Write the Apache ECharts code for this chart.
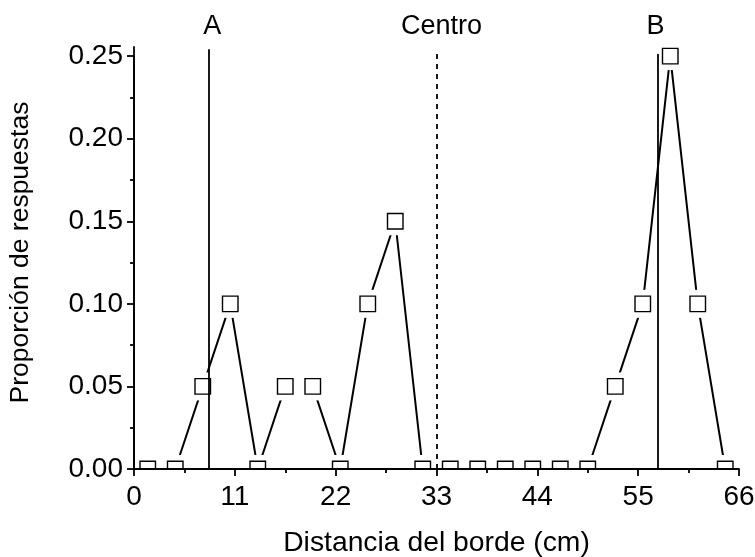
<!DOCTYPE html>
<html>
<head>
<meta charset="utf-8">
<script src="https://cdn.jsdelivr.net/npm/echarts@6/dist/echarts.min.js"></script>
<style>
  html, body { margin: 0; background: #fff; }
  #chart { width: 755px; height: 557px; }
</style>
</head>
<body>
<div id="chart"></div>
<script>
// distance from edge (cm) and proportion of responses
const distancia = [1.5, 4.5, 7.5, 10.5, 13.5, 16.5, 19.5, 22.5, 25.5, 28.5, 31.5,
  34.5, 37.5, 40.5, 43.5, 46.5, 49.5, 52.5, 55.5, 58.5, 61.5, 64.5];
const proporcion = [0, 0, 0.05, 0.10, 0, 0.05, 0.05, 0, 0.10, 0.15, 0,
  0, 0, 0, 0, 0, 0, 0.05, 0.10, 0.25, 0.10, 0];

const xTicks = [0, 11, 22, 33, 44, 55, 66];
const yTicks = [0, 0.05, 0.10, 0.15, 0.20, 0.25];
const yTop = 0.2555; // y axis line runs a little past the last tick

// reference lines
const refNames = ['A', 'Centro', 'B'];
const refX = [8.2, 33, 57.1];
const refTop = [0.2542, 0.2526, 0.2512];
const refDashed = [false, true, false];
const refLabelShift = [3, 5, -2];
const refLabelGap = [9, 11.5, 14];

const FONT = 'Liberation Sans, Arial, sans-serif';
const points = distancia.map((x, i) => [x, proporcion[i]]);

const black = { color: '#000', width: 1.8 };
const plotBottom = 88;
const plotTop = 47;
const plotH = 557 - plotTop - plotBottom;
const tickTop = plotTop + plotH * (1 - yTicks[yTicks.length - 1] / yTop);

const chart = echarts.init(document.getElementById('chart'), null, { renderer: 'canvas' });

chart.setOption({
  animation: false,
  backgroundColor: '#fff',
  grid: [
    { left: 134, right: 16, top: tickTop, bottom: plotBottom, outerBoundsMode: 'none', containLabel: false },
    // same area stretched up to the end of the axis line (no ticks here)
    { left: 134, right: 16, top: plotTop, bottom: plotBottom, outerBoundsMode: 'none', containLabel: false }
  ],
  xAxis: [
    {
      type: 'value',
      z: 10,
      min: xTicks[0],
      max: xTicks[xTicks.length - 1],
      interval: xTicks[1] - xTicks[0],
      axisLine: { show: true, lineStyle: black },
      axisTick: { show: true, inside: false, length: 7, lineStyle: black },
      minorTick: { show: true, splitNumber: 2, length: 4, lineStyle: black },
      splitLine: { show: false },
      name: 'Distancia del borde (cm)',
      nameLocation: 'middle',
      nameGap: 60,
      nameTextStyle: { fontFamily: FONT, fontSize: 28.3, color: '#000' },
      axisLabel: { margin: 14, fontFamily: FONT, fontSize: 28, color: '#000' }
    },
    { type: 'value', gridIndex: 1, show: false, min: xTicks[0], max: xTicks[xTicks.length - 1] }
  ],
  yAxis: [
    {
      type: 'value',
      z: 10,
      min: yTicks[0],
      max: yTicks[yTicks.length - 1],
      interval: yTicks[1] - yTicks[0],
      axisLine: { show: true, lineStyle: black },
      axisTick: { show: true, inside: false, length: 7, lineStyle: black },
      minorTick: { show: true, splitNumber: 2, length: 4, lineStyle: black },
      splitLine: { show: false },
      name: 'Proporción de respuestas',
      nameLocation: 'middle',
      nameGap: 100,
      nameTextStyle: { fontFamily: FONT, fontSize: 26.5, color: '#000', padding: [0, 0, 0, 20] },
      axisLabel: {
        margin: 11, fontFamily: FONT, fontSize: 28, color: '#000',
        formatter: v => v.toFixed(2)
      }
    },
    {
      type: 'value',
      gridIndex: 1,
      z: 10,
      min: yTicks[0],
      max: yTop,
      axisLine: { show: true, lineStyle: black },
      axisTick: { show: false },
      axisLabel: { show: false },
      splitLine: { show: false }
    }
  ],
  series: [
    {
      type: 'line',
      data: points,
      symbol: 'none',
      lineStyle: { color: '#000', width: 2 },
      z: 2
    },
    {
      type: 'custom',
      data: points,
      clip: false,
      z: 3,
      renderItem(params, api) {
        const p = api.coord([api.value(0), api.value(1)]);
        const base = api.coord([api.value(0), 0])[1];
        // boxes are cut off at the x axis, like the original plot
        const box = (half, style) => {
          const top = p[1] - half;
          const bottom = Math.min(p[1] + half, base);
          return { type: 'rect', shape: { x: p[0] - half, y: top, width: half * 2, height: bottom - top }, style };
        };
        return {
          type: 'group',
          children: [
            box(14, { fill: '#fff' }),
            box(7.75, { fill: '#fff', stroke: '#000', lineWidth: 1.4 })
          ]
        };
      }
    },
    {
      type: 'line',
      xAxisIndex: 1,
      yAxisIndex: 1,
      data: [],
      clip: false,
      z: 5,
      markLine: {
        silent: true,
        symbol: 'none',
        animation: false,
        data: refNames.map((n, i) => [
          { coord: [refX[i], 0], name: n,
            lineStyle: { color: '#000', width: 1.8, type: refDashed[i] ? [5, 5] : 'solid' },
            label: { offset: [refLabelShift[i], 0], distance: refLabelGap[i] } },
          { coord: [refX[i], refTop[i]] }
        ]),
        label: {
          show: true, position: 'end',
          formatter: '{b}', fontFamily: FONT, fontSize: 27, color: '#000'
        }
      }
    }
  ]
});
</script>
</body>
</html>
